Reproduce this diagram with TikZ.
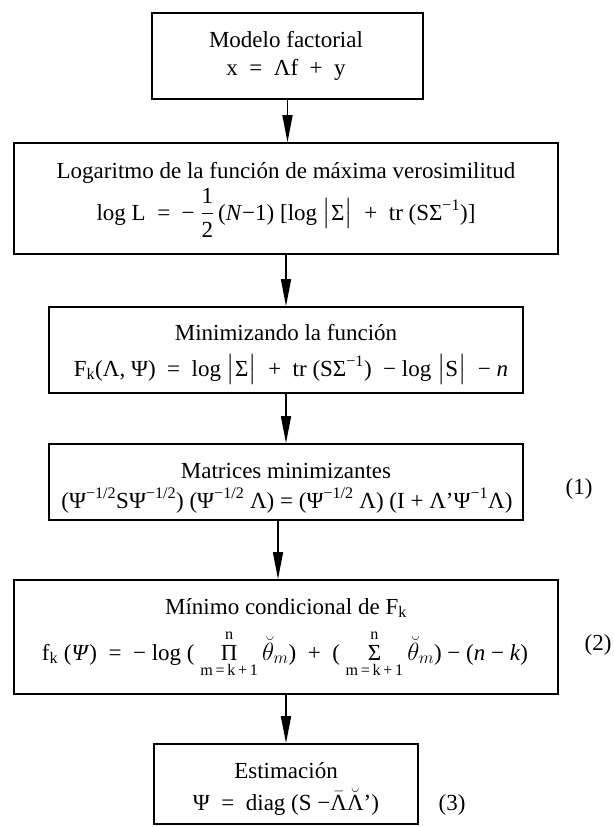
\documentclass[tikz,border=0pt]{standalone}
\usepackage{amsmath}
\usepackage{fontspec}
\setmainfont{Liberation Serif}
\usetikzlibrary{arrows.meta}
\newcommand{\tsup}[1]{$^{\text{#1}}$}
\newcommand{\tsub}[1]{$_{\text{#1}}$}
\tikzset{
  box/.style={draw, line width=1.7pt, inner sep=0pt},
  txt/.style={font=\fontsize{23}{28}\selectfont, anchor=base, inner sep=0pt},
  arr/.style={line width=1.6pt, -{Triangle[length=27pt,width=10pt]}}
}
\begin{document}
\begin{tikzpicture}[x=1pt,y=-1pt]
\useasboundingbox (0,0) rectangle (613,827);
% boxes
\node[box, minimum width=271pt, minimum height=86pt]  (b1) at (287.5,56) {};
\node[box, minimum width=544pt, minimum height=111pt] (b2) at (286,198.5) {};
\node[box, minimum width=474pt, minimum height=86pt]  (b3) at (286,350) {};
\node[box, minimum width=474pt, minimum height=76pt]  (b4) at (286,482) {};
\node[box, minimum width=544pt, minimum height=114pt] (b5) at (286,637) {};
\node[box, minimum width=264pt, minimum height=80pt]  (b6) at (286,784) {};
% texts
\node[txt] (t1a) at (286,47) {Modelo factorial};
\node[txt] (t1b) at (286,75) {x\ \ =\ \ Λf\ \ +\ \ y};
\node[txt] (t2a) at (286,178) {Logaritmo de la función de máxima verosimilitud};
\node[txt] (t2b) at (286,220) {log L\ \ =\ \ −\ $\dfrac{\text{1}}{\text{2}}$\,(\textit{N}−1)\ [log\ $\bigl|$Σ$\bigr|$\ \ +\ \ tr (SΣ\tsup{−1})]};
\node[txt] (t3a) at (286,340) {Minimizando la función};
\node[txt] (t3b) at (291,376) {F\tsub{k}(Λ, Ψ)\ \ =\ \ log\ $\bigl|$Σ$\bigr|$\ \ +\ \ tr\ (SΣ\tsup{−1})\ \ −\ log\ $\bigl|$S$\bigr|$\ \ −\ \textit{n}};
\node[txt] (t4a) at (286,478) {Matrices minimizantes};
\node[txt] (t4b) at (287,508) {(Ψ\tsup{−1/2}SΨ\tsup{−1/2})\ (Ψ\tsup{−1/2}\ Λ)\ =\ (Ψ\tsup{−1/2}\ Λ)\ (I\ +\ Λ'Ψ\tsup{−1}Λ)};
\node[txt] (l1) at (579,494) {(1)};
\node[txt] (t5a) at (286,614) {Mínimo condicional de F\tsub{k}};
\node[txt] (t5b) at (285,660) {f\tsub{k}\ (\textit{Ψ})\ \ =\ \ −\ log\ (\ $\mathop{\text{Π}}\limits^{\text{n}}_{\text{m\,=\,k\,+\,1}}\breve{\theta}_{m}$)\ \ +\ \ (\ $\mathop{\text{Σ}}\limits^{\text{n}}_{\text{m\,=\,k\,+\,1}}\breve{\theta}_{m}$)\ −\ (\textit{n}\ −\ \textit{k})};
\node[txt] (l2) at (598,650) {(2)};
\node[txt] (t6a) at (286,778) {Estimación};
\node[txt] (t6b) at (286,810) {Ψ\ \ =\ \ diag\ (S\ −$\bar{\text{Λ}}\breve{\text{Λ}}$')};
\node[txt] (l3) at (452,810) {(3)};
% arrows
\draw[arr] (b1.south) -- (b1.south |- b2.north);
\draw[arr] (b2.south) -- (b2.south |- b3.north);
\draw[arr] (b3.south) -- (b3.south |- b4.north);
\draw[arr] ([xshift=-8pt]b4.south) -- ([xshift=-8pt]b4.south |- b5.north);
\draw[arr] (b5.south) -- (b5.south |- b6.north);
\end{tikzpicture}
\end{document}
